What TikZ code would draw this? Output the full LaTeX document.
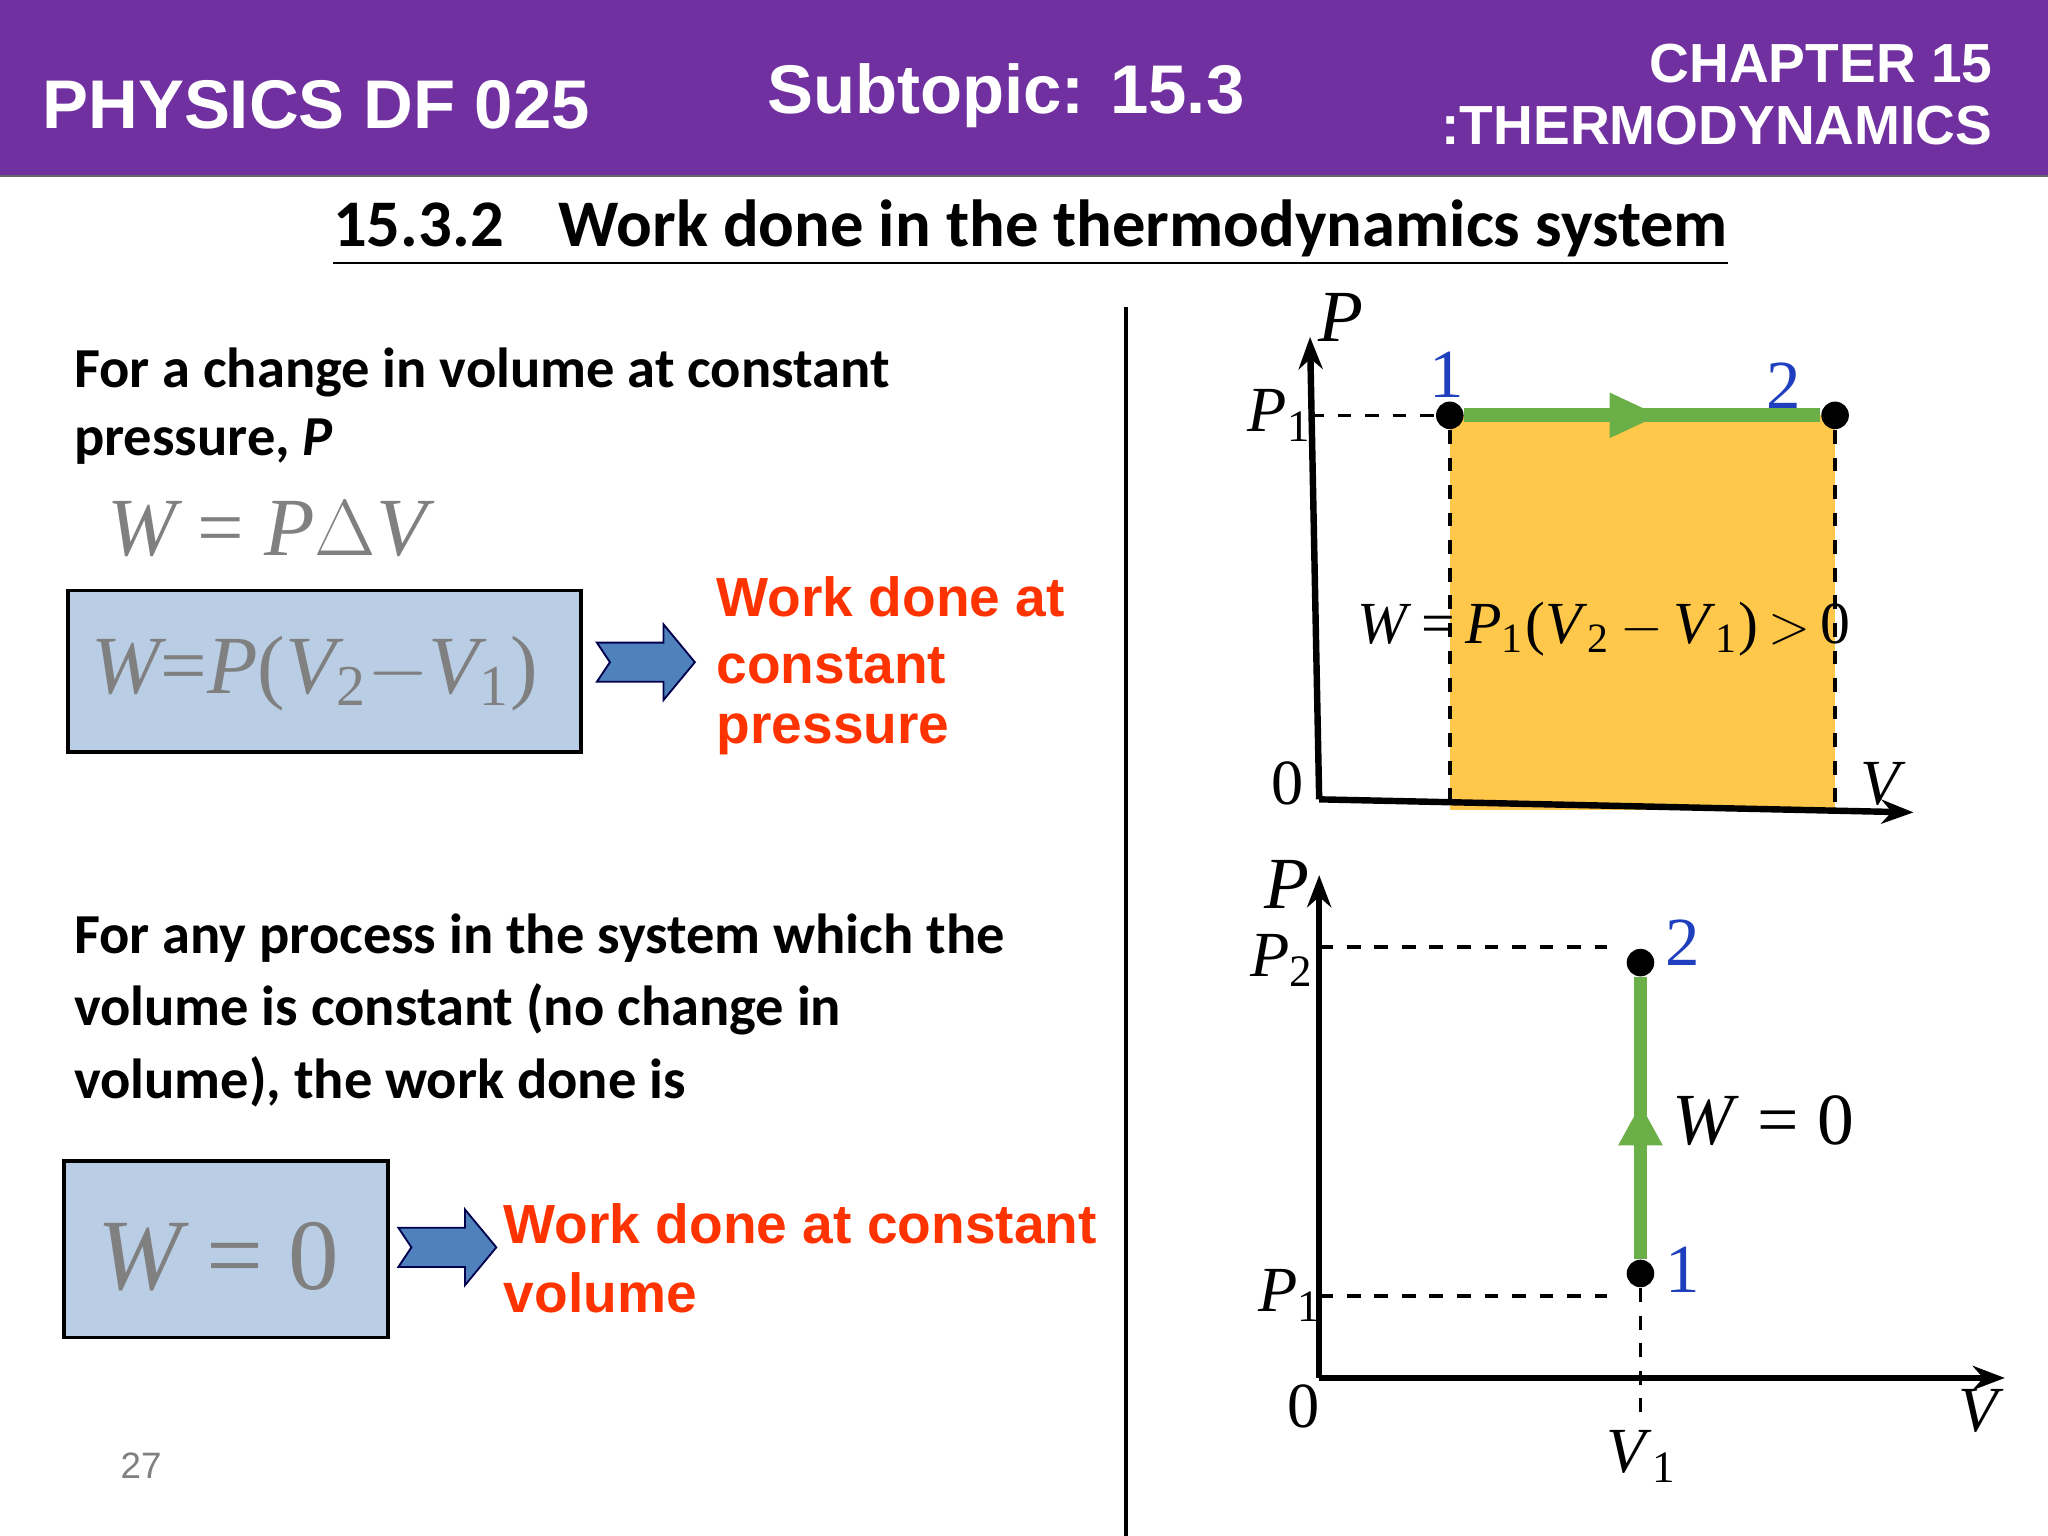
\documentclass[tikz,border=0pt]{standalone}
\usepackage{fontspec}
\setmainfont{Carlito}
\newfontfamily\hd{Liberation Sans}
\newfontfamily\mth{Liberation Serif}
\usetikzlibrary{arrows.meta,decorations.markings}
\definecolor{purp}{HTML}{7030A0}
\definecolor{boxb}{HTML}{B9CDE5}
\definecolor{redt}{HTML}{FF3300}
\definecolor{orng}{HTML}{FFC84A}
\definecolor{grn}{HTML}{6AAF47}
\definecolor{blu}{HTML}{1F3FBF}
\definecolor{arb}{HTML}{4F81BD}
\tikzset{
 hdr/.style={text=white,font=\hd\bfseries\fontsize{15}{17}\selectfont},
 body/.style={anchor=west,inner xsep=0pt,font=\bfseries\fontsize{12.3}{14}\selectfont},
 redl/.style={anchor=west,inner xsep=0pt,text=redt,font=\hd\bfseries\fontsize{12}{14}\selectfont},
 eqbox/.style={draw=black,thick,fill=boxb},
 grmath/.style={text=gray,font=\mth\itshape\fontsize{18}{20}\selectfont},
 gmath/.style={font=\mth\fontsize{14}{16}\selectfont},
 bnum/.style={text=blu,font=\mth\fontsize{15}{17}\selectfont},
 blockarr/.style={draw=black!70!blue,fill=arb,line join=miter},
 dot/.style={circle,fill=black,inner sep=0pt,minimum size=6pt},
 axis/.style={line width=1.4pt,-{Stealth[length=7pt]}},
 dsh/.style={dashed,thick},
 gl/.style={grn,line width=3pt},
}
\begin{document}
\begin{tikzpicture}[x=0.01cm,y=-0.01cm]
\useasboundingbox (0,0) rectangle (1568,1176);
\fill[purp] (0,0) rectangle (1568,135);
\draw[black!60] (0,135)--(1568,135);
\node[hdr,anchor=west] (h1) at (20,80) {PHYSICS DF 025};
\node[hdr] (h2) at (770,73) {Subtopic: 15.3};
\node[hdr,anchor=east,align=right,font=\hd\bfseries\fontsize{12}{13.5}\selectfont] (h3) at (1538,72) {CHAPTER 15\\:THERMODYNAMICS};
\node[font=\bfseries\fontsize{14.5}{17}\selectfont] (ttl) at (789,178) {\underline{15.3.2\hspace{0.6em} Work done in the thermodynamics system}};
\draw[thick] (862,235)--(862,1176);
% left top
\node[body] (t1) at (56,285) {For a change in volume at constant};
\node[body] (t2) at (56,338) {pressure, \textit{P}};
\node[grmath,anchor=west] (e1) at (70,405) {W {\upshape =} P{\upshape$\Delta$}V};
\draw[eqbox] (52,452) rectangle (445,576);
\node[grmath,anchor=west] (e2) at (58,516) {W{\upshape =}P{\upshape (}V\textsubscript{\upshape 2}{\upshape $-$}V\textsubscript{\upshape 1}{\upshape )}};
\draw[blockarr] (457,492)--(508,492)--(508,478)--(532,507)--(508,536)--(508,522)--(457,522)--(467,507)--cycle;
\node[redl] (r1) at (548,457) {Work done at};
\node[redl] (r2) at (548,510) {constant};
\node[redl] (r3) at (548,562) {pressure};
% left bottom
\node[body] (t3) at (56,718) {For any process in the system which the};
\node[body] (t4) at (56,773) {volume is constant (no change in};
\node[body] (t5) at (56,828) {volume), the work done is};
\draw[eqbox] (49,889) rectangle (297,1024);
\node[grmath,anchor=west,font=\mth\itshape\fontsize{22}{24}\selectfont] (e3) at (62,962) {W {\upshape =} {\upshape 0}};
\draw[blockarr] (305,940)--(356,940)--(356,926)--(380,955)--(356,984)--(356,970)--(305,970)--(315,955)--cycle;
\node[redl] (r4) at (385,937) {Work done at constant};
\node[redl] (r5) at (385,990) {volume};
\node[text=gray,font=\hd\fontsize{8}{9}\selectfont] (pg) at (108,1122) {27};
% graph 1
\fill[orng] (1110,318) rectangle (1405,620);
\coordinate (o1) at (1010,612);
\coordinate (py) at (1003,258);
\coordinate (vx) at (1465,622);
\draw[axis] (o1)--(py);
\draw[axis] (o1)--(vx);
\node[dot] (p1) at (1110,318) {};
\node[dot] (p2) at (1405,318) {};
\coordinate (p1a) at (1003,318);
\coordinate (p1b) at (1110,620);
\coordinate (p2b) at (1405,620);
\draw[dsh] (p1a)--(p1);
\draw[dsh] (p1)--(p1b);
\draw[dsh] (p2)--(p2b);
\draw[gl,postaction={decorate},decoration={markings,mark=at position 0.55 with {\arrow[grn]{Triangle[length=11pt,width=9pt]}}}] (p1)--(p2);
\node[gmath,font=\mth\itshape\fontsize{16}{18}\selectfont] (lp) at (1027,243) {P};
\node[gmath] (lp1) at (980,318) {\textit{P}\textsubscript{1}};
\node[bnum] (n1) at (1108,287) {1};
\node[bnum] (n2) at (1366,295) {2};
\node[gmath] (l0) at (986,600) {0};
\node[gmath] (lv) at (1442,600) {\textit{V}};
\node[gmath,font=\mth\fontsize{13}{15}\selectfont] (f1) at (1228,482) {\textit{W}\,=\,\textit{P}\textsubscript{1}(\textit{V}\textsubscript{2}\,$-$\,\textit{V}\textsubscript{1})\,$>$\,0};
% graph 2
\coordinate (o2) at (1010,1055);
\coordinate (py2) at (1010,670);
\coordinate (vx2) at (1535,1055);
\draw[axis] (o2)--(py2);
\draw[axis] (o2)--(vx2);
\node[dot] (q2) at (1256,737) {};
\node[dot] (q1) at (1256,975) {};
\coordinate (h2a) at (1010,725);
\coordinate (h2b) at (1230,725);
\coordinate (h1a) at (1010,992);
\coordinate (h1b) at (1230,992);
\coordinate (vb) at (1256,1085);
\draw[dsh] (h2a)--(h2b);
\draw[dsh] (h1a)--(h1b);
\draw[dsh] (q1)--(vb);
\draw[gl,postaction={decorate},decoration={markings,mark=at position 0.55 with {\arrow[grn]{Triangle[length=9pt,width=9pt]}}}] (q1)--(q2);
\node[gmath,font=\mth\itshape\fontsize{16}{18}\selectfont] (lq) at (985,677) {P};
\node[gmath] (lq2) at (982,735) {\textit{P}\textsubscript{2}};
\node[bnum] (m2) at (1288,722) {2};
\node[gmath,font=\mth\fontsize{16}{18}\selectfont] (w0) at (1350,858) {\textit{W} = 0};
\node[bnum] (m1) at (1288,972) {1};
\node[gmath] (lq1) at (988,992) {\textit{P}\textsubscript{1}};
\node[gmath] (l02) at (998,1077) {0};
\node[gmath] (lv2) at (1517,1080) {\textit{V}};
\node[gmath] (lv1) at (1257,1115) {\textit{V}\textsubscript{1}};
\end{tikzpicture}
\end{document}
